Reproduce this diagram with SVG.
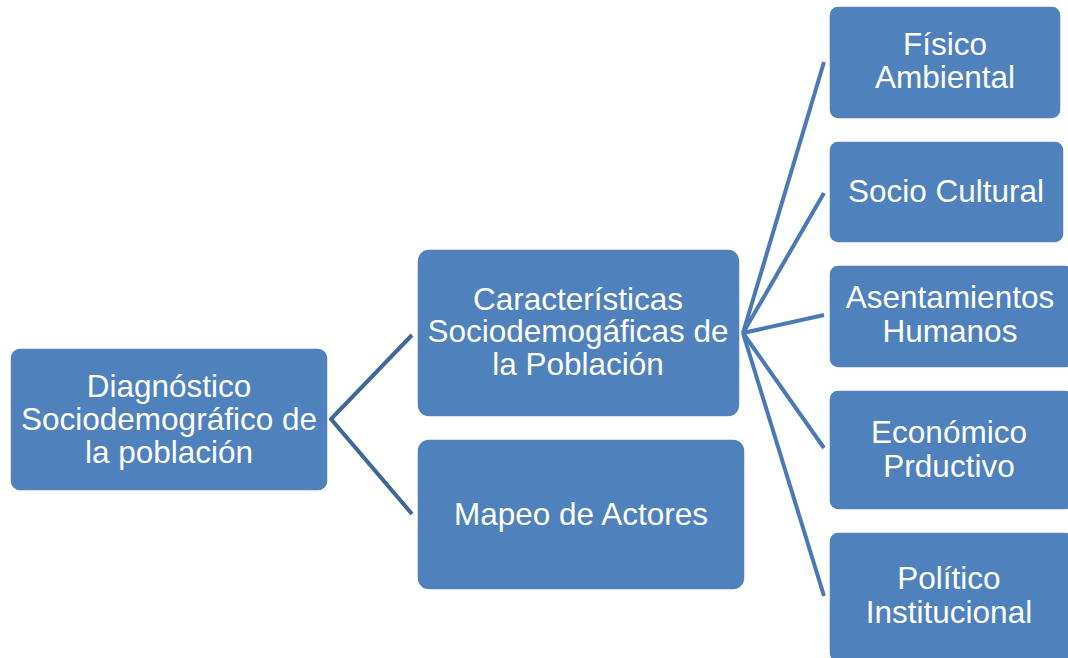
<svg xmlns="http://www.w3.org/2000/svg" width="1068" height="658" viewBox="0 0 1068 658">
<style>
.box{fill:#4F81BD;stroke:#ffffff;stroke-width:1.5}
.t{font-family:"Liberation Sans",Arial,sans-serif;font-size:31.5px;fill:#ffffff;text-anchor:middle}
.c1{stroke:#3F6797;stroke-width:4;fill:none}
.c2{stroke:#4A7AB5;stroke-width:4;fill:none}
</style>
<rect width="1068" height="658" fill="#ffffff"/>
<g id="connectors">
<polyline class="c1" points="412,335 331,419 412,514"/>
<line class="c2" x1="743" y1="333" x2="824" y2="62"/>
<line class="c2" x1="743" y1="333" x2="824" y2="193"/>
<line class="c2" x1="743" y1="333" x2="824" y2="315"/>
<line class="c2" x1="743" y1="333" x2="824" y2="448"/>
<line class="c2" x1="743" y1="333" x2="824" y2="596"/>
</g>
<g id="root">
<rect class="box" x="10" y="348" width="318" height="143" rx="10"/>
<text class="t" x="169" y="397">Diagnóstico</text>
<text class="t" x="169" y="430">Sociodemográfico de</text>
<text class="t" x="169" y="463">la población</text>
</g>
<g id="caracteristicas">
<rect class="box" x="417" y="249" width="323" height="168" rx="12"/>
<text class="t" x="578" y="310">Características</text>
<text class="t" x="578" y="342">Sociodemogáficas de</text>
<text class="t" x="578" y="375">la Población</text>
</g>
<g id="mapeo">
<rect class="box" x="417" y="439" width="328" height="151" rx="12"/>
<text class="t" x="581" y="525">Mapeo de Actores</text>
</g>
<g id="fisico">
<rect class="box" x="829" y="6" width="232" height="113" rx="9"/>
<text class="t" x="945" y="55">Físico</text>
<text class="t" x="945" y="88">Ambiental</text>
</g>
<g id="socio">
<rect class="box" x="829" y="141" width="235" height="102" rx="9"/>
<text class="t" x="946" y="202">Socio Cultural</text>
</g>
<g id="asentamientos">
<rect class="box" x="829" y="265" width="245" height="103" rx="9"/>
<text class="t" x="950" y="308">Asentamientos</text>
<text class="t" x="950" y="342">Humanos</text>
</g>
<g id="economico">
<rect class="box" x="829" y="390" width="245" height="120" rx="9"/>
<text class="t" x="949" y="443">Económico</text>
<text class="t" x="949" y="477">Prductivo</text>
</g>
<g id="politico">
<rect class="box" x="829" y="532" width="245" height="130" rx="9"/>
<text class="t" x="949" y="589">Político</text>
<text class="t" x="949" y="623">Institucional</text>
</g>
</svg>
